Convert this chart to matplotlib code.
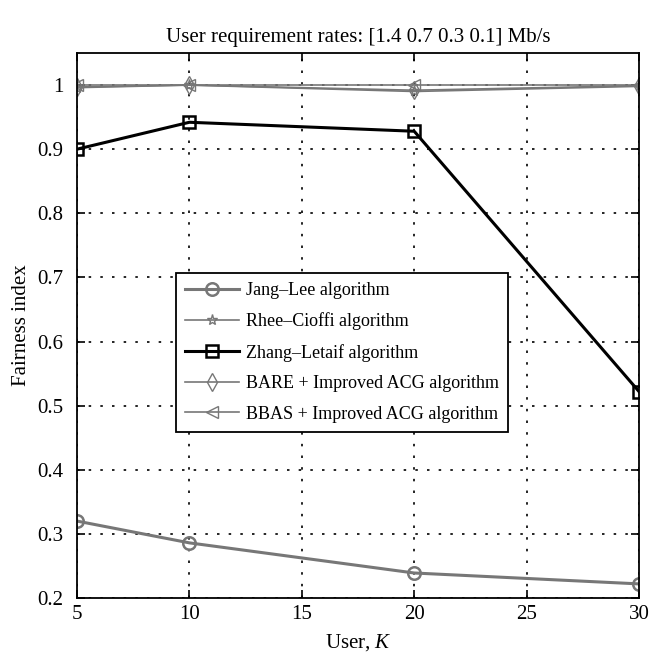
import matplotlib
matplotlib.use("Agg")
import matplotlib.pyplot as plt

users = [5, 10, 20, 30]
jang_lee = [0.320, 0.286, 0.239, 0.222]
rhee_cioffi = [0.996, 1.0, 0.990, 0.998]
zhang_letaif = [0.900, 0.942, 0.928, 0.522]
bare_acg = [0.997, 1.0, 0.992, 0.999]
bbas_acg = [1.0, 1.0, 1.0, 1.0]
xticks = [5, 10, 15, 20, 25, 30]
yticks = [0.2, 0.3, 0.4, 0.5, 0.6, 0.7, 0.8, 0.9, 1.0]
ytick_labels = ["0.2", "0.3", "0.4", "0.5", "0.6", "0.7", "0.8", "0.9", "1"]

plt.rcParams['font.family'] = ['Liberation Serif', 'DejaVu Serif']
plt.rcParams['mathtext.fontset'] = 'custom'
plt.rcParams['mathtext.it'] = 'Liberation Serif:italic'
plt.rcParams['mathtext.rm'] = 'Liberation Serif'

fig = plt.figure(figsize=(6.49, 6.57), dpi=100)
ax = fig.add_axes([0.1186, 0.0898, 0.866, 0.8295])

grey = '#777777'
ax.plot(users, jang_lee, color=grey, lw=2.2, marker='o', ms=9, mfc='none', mec=grey, mew=1.8,
        label='Jang\u2013Lee algorithm')
ax.plot(users, rhee_cioffi, color=grey, lw=1.2, marker='*', ms=8, mfc='none', mec=grey, mew=1.0,
        label='Rhee\u2013Cioffi algorithm')
ax.plot(users, zhang_letaif, color='black', lw=2.2, marker='s', ms=8, mfc='none', mec='black', mew=1.8,
        label='Zhang\u2013Letaif algorithm')
ax.plot(users, bare_acg, color=grey, lw=1.2, marker='d', ms=9, mfc='none', mec=grey, mew=1.0,
        label='BARE + Improved ACG algorithm')
ax.plot(users, bbas_acg, color=grey, lw=1.2, marker='<', ms=9, mfc='none', mec=grey, mew=1.0,
        label='BBAS + Improved ACG algorithm')

ax.set_xlim(5, 30)
ax.set_ylim(0.2, 1.05)
ax.set_xticks(xticks)
ax.set_yticks(yticks)
ax.set_yticklabels(ytick_labels)
ax.tick_params(direction='in', labelsize=15, length=6, width=1.2, top=True, right=True)
ax.tick_params(axis='x', pad=5)
ax.tick_params(axis='y', pad=10)
ax.grid(True, color='black', linestyle=(0, (1.5, 5.5)), linewidth=1.2)
for s in ax.spines.values():
    s.set_linewidth(1.3)

ax.set_xlabel('User, $K$', fontsize=15, labelpad=6)
ax.set_ylabel('Fairness index', fontsize=15, labelpad=4)
ax.set_title('User requirement rates: [1.4 0.7 0.3 0.1] Mb/s', fontsize=15, pad=8)

leg = ax.legend(loc='lower left', bbox_to_anchor=(0.176, 0.305), fontsize=13,
                fancybox=False, framealpha=1, edgecolor='black', handlelength=3.0,
                borderpad=0.5, labelspacing=0.75, handletextpad=0.4, borderaxespad=0)
leg.get_frame().set_linewidth(1.3)

fig.savefig('out.png', dpi=100)
